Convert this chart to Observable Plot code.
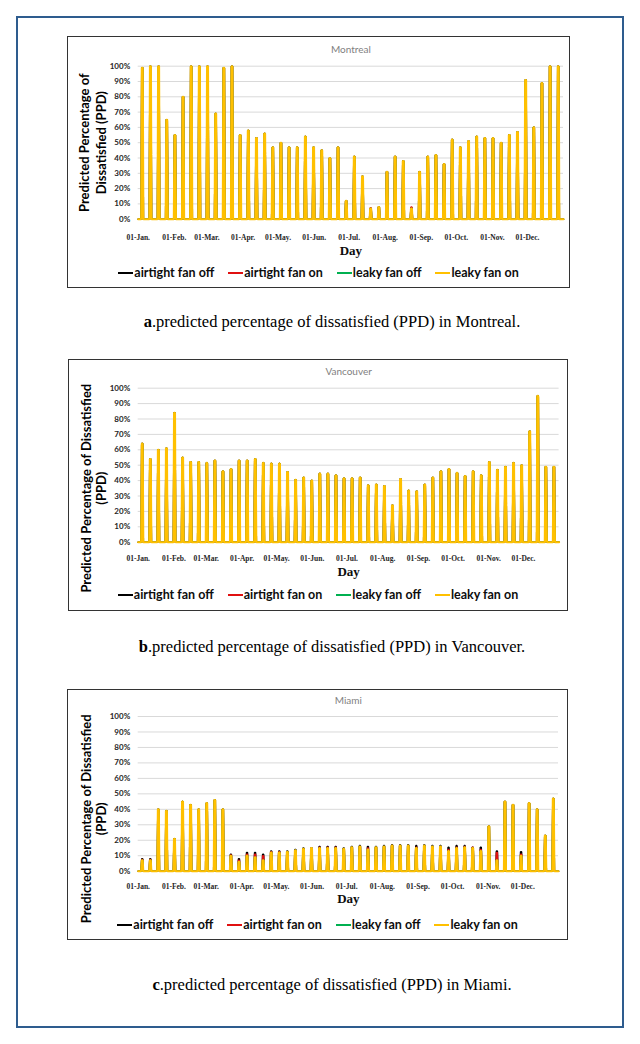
<!DOCTYPE html>
<html><head><meta charset="utf-8">
<script src="https://cdn.jsdelivr.net/npm/d3@7"></script>
<script src="https://cdn.jsdelivr.net/npm/@observablehq/plot@0.6"></script>
<style>
html,body{margin:0;padding:0;background:#fff}
body{width:640px;height:1044px;position:relative;overflow:hidden;font-family:Lato,sans-serif}
.frame{position:absolute;left:16px;top:16px;width:608px;height:1012px;box-sizing:border-box;border:2px solid #2e5c8e}
.panel{position:absolute;box-sizing:border-box;border:1px solid #333;background:#fff}
.panel svg{position:absolute;left:0;top:0}
.legend{position:absolute;left:0;right:0;height:16px;line-height:16px;display:flex;justify-content:center;gap:14px;font-family:Lato,sans-serif;font-weight:bold;font-size:12.5px;color:#0d0d0d;white-space:nowrap}
.legend .it{display:flex;align-items:center}
.legend .sw{display:inline-block;width:15px;height:2px;margin-right:1px}
.caption{position:absolute;left:0;width:664px;text-align:center;font-family:"Liberation Serif","Times New Roman",serif;font-size:16.5px;line-height:20px;color:#000;white-space:nowrap}
</style>
</head><body>
<div class="frame"></div>
<script>
// ---- axis / legend data ----
const monthStarts = [0, 31, 59, 90, 120, 151, 181, 212, 243, 273, 304, 334];
const monthLabels = ["01-Jan.", "01-Feb.", "01-Mar.", "01-Apr.", "01-May.", "01-Jun.", "01-Jul.", "01-Aug.", "01-Sep.", "01-Oct.", "01-Nov.", "01-Dec."];
const yTicks = [0, 10, 20, 30, 40, 50, 60, 70, 80, 90, 100];
const seriesNames = ["airtight fan off", "airtight fan on", "leaky fan off", "leaky fan on"];
const seriesColors = ["#000000", "#e01010", "#00b050", "#ffc000"];

// ---- weekly peak PPD (%), one value per weekly occupied spike ----
const montrealAirtightFanOff = [99,100,100,65,55,80,100,100,100,69,99,100, 55,58,53,56,47,50,47,47,54,47,45,40,47, 12,41,28,7,8,31,41,38,7.5,31,41,42,36, 52,47,51,54,53,53,50,55,57,91,60,89,100,100];
const montrealAirtightFanOn  = [99,100,100,65,55,80,100,100,100,69,99,100, 55,58,53,56,47,50,47,47,54,47,45,40,47, 12,41,28,7.5,8,31,41,38,8,31,41,42,36, 52,47,51,54,53,53,50,55,57,91,60,89,100,100];
const montrealLeakyFanOff    = [99,100,100,65,55,80,100,100,100,69,99,100, 55,58,53,56,47,50,47,47,54,47,45,40,47, 12,41,28,7,8,31,41,38,7,31,41,42,36, 52,47,51,54,53,53,50,55,57,91,60,89,100,100];
const montrealLeakyFanOn     = [99,100,100,65,55,80,100,100,100,69,99,100, 55,58,53,56,47,50,47,47,54,47,45,40,47, 12,41,28,7,8,31,41,38,7,31,41,42,36, 52,47,51,54,53,53,50,55,57,91,60,89,100,100];

const vancouverAirtightFanOff = [64,54,60,61,84,55,52,52,51.5,53,46,47.5, 53,53,54,51.5,51,51,45.5,40.5,42,40,44.5,44.5,43.5, 41.5,41.5,42,37,37.5,36.5,24,41,33.5,33,37.5,42,46, 47.5,45,43,46,43.5,52,47,49,51.5,50,72,95,49,49];
const vancouverAirtightFanOn  = [64,54,60,61,84,55,52,52,51.5,53,46,47.5, 53,53,54,51.5,51,51,45.5,40.5,42,40,44.5,44.5,43.5, 41.5,41.5,42,37,37.5,36.5,24,41,33.5,33,37.5,42,46, 47.5,45,43,46,43.5,52,47,49,51.5,50,72,95,49,49];
const vancouverLeakyFanOff    = [64,54,60,61,84,55,52,52,51.5,53,46,47.5, 53,53,54,51.5,51,51,45.5,40.5,42,40,44.5,44.5,43.5, 41.5,41.5,42,37,37.5,36.5,24,41,33.5,33,37.5,42,46, 47.5,45,43,46,43.5,52,47,49,51.5,50,72,95,49,49];
const vancouverLeakyFanOn     = [64,54,60,61,84,55,52,52,51.5,53,46,47.5, 53,53,54,51.5,51,51,45.5,40.5,42,40,44.5,44.5,43.5, 41.5,41.5,42,37,37.5,36.5,24,41,33.5,33,37.5,42,46, 47.5,45,43,46,43.5,52,47,49,51.5,50,72,95,49,49];

const miamiAirtightFanOff = [8,8,40,39,21,45,43,40,44,46,40,11, 8,12,12,11,13,13,13,14,15,15,16,16,16, 15,16,16.5,16,16,16.5,17,17,17,16.5,17,16.5,16.5, 15.5,16.5,16.5,15.5,15.5,29,13,45,43,12.5,44,40,23,47];
const miamiAirtightFanOn  = [7.5,7.5,40,39,21,45,43,40,44,46,40,10.5, 7,11,11,10,12.5,12.5,12.5,13.5,14.5,15,15.5,15.5,15.5, 14.5,15.5,16,15,15.5,16,16.5,16.5,16.5,15.5,16.5,16,16, 14,15.5,16,15.5,14,29,12,45,43,11,44,40,23,47];
const miamiLeakyFanOff    = [7,7,40,39,21,45,43,40,44,46,40,10, 6,10,9,7,12,12,12.5,13.5,14.5,15,15,15,15, 14.5,15.5,16,14,15.5,16,16.5,16.5,16.5,15,16.5,16,16, 13,15,15.5,15,13,29,7,45,43,10,44,40,23,47];
const miamiLeakyFanOn     = [7,7,40,39,21,45,43,40,44,46,40,10, 6,10,9,7,12,12,12.5,13.5,14.5,15,15,15,15, 14.5,15.5,16,14,15.5,16,16.5,16.5,16.5,15,16.5,16,16, 13,15,15.5,15,13,29,7,45,43,10,44,40,23,47];

// ---- texts ----
const cities = [
  {name: "Montreal", letter: "a", place: "Montreal",
   yTitle: ["Predicted Percentage of", "Dissatisfied (PPD)"],
   series: [montrealAirtightFanOff, montrealAirtightFanOn, montrealLeakyFanOff, montrealLeakyFanOn]},
  {name: "Vancouver", letter: "b", place: "Vancouver",
   yTitle: ["Predicted Percentage of Dissatisfied", "(PPD)"],
   series: [vancouverAirtightFanOff, vancouverAirtightFanOn, vancouverLeakyFanOff, vancouverLeakyFanOn]},
  {name: "Miami", letter: "c", place: "Miami",
   yTitle: ["Predicted Percentage of Dissatisfied", "(PPD)"],
   series: [miamiAirtightFanOff, miamiAirtightFanOn, miamiLeakyFanOff, miamiLeakyFanOn]}
];

// ---- layout (pixels) ----
const layouts = [
  {left: 67, top: 36, w: 503, h: 252, mL: 69.7, mR: 6, mT: 28.7, mB: 43.3, titleDy: -16.7, tickPad: 15, dayDy: 31.3, yDy: 0, y1: -53, y2: -36.5, legendTop: 228.3, capY: 322},
  {left: 68, top: 359, w: 500, h: 252, mL: 68.7, mR: 8.4, mT: 27.7, mB: 43.3, titleDy: -16, tickPad: 13.3, dayDy: 29.3, yDy: 23, y1: -51.5, y2: -36, legendTop: 227, capY: 647},
  {left: 67, top: 689, w: 501, h: 251, mL: 69.7, mR: 9, mT: 26, mB: 44.3, titleDy: -16, tickPad: 12.6, dayDy: 27.3, yDy: 25, y1: -51.5, y2: -36, legendTop: 227, capY: 985}
];
const svgH = 225;
// spike geometry of each weekly occupied period (days)
const spikeFirst = 2.6, spikeRise = 0.5, spikeTop = 0.8, spikeFall = 0.5, week = 7, yearDays = 365;
const strokeWidths = [1.6, 1.6, 1.6, 2.1];

function spikePoints(peaks) {
  const pts = [{d: 0, v: 0}];
  peaks.forEach((v, i) => {
    const s = spikeFirst + week * i;
    pts.push({d: s, v: 0}, {d: s + spikeRise, v}, {d: s + spikeRise + spikeTop, v}, {d: s + spikeRise + spikeTop + spikeFall, v: 0});
  });
  pts.push({d: yearDays, v: 0});
  return pts;
}

cities.forEach((c, k) => {
  const L = layouts[k];
  const panel = document.createElement("div");
  panel.className = "panel";
  Object.assign(panel.style, {left: L.left + "px", top: L.top + "px", width: L.w + "px", height: L.h + "px"});
  document.body.appendChild(panel);

  const W = L.w - 2;
  const lines = c.series.map((s, i) => Plot.line(spikePoints(s), {x: "d", y: "v", stroke: seriesColors[i], strokeWidth: strokeWidths[i], strokeLinejoin: "miter"}));

  const chart = Plot.plot({
    width: W, height: svgH,
    marginLeft: L.mL, marginRight: L.mR, marginTop: L.mT, marginBottom: L.mB,
    style: {background: "transparent", overflow: "visible"},
    x: {domain: [0, yearDays], label: null},
    y: {domain: [0, 100], label: null},
    marks: [
      Plot.gridY(yTicks.slice(1), {stroke: "#d9d9d9", strokeOpacity: 1, strokeWidth: 1}),
      Plot.axisY(yTicks, {tickSize: 0, tickPadding: 8, tickFormat: d => d + "%", fontFamily: "Lato", fontWeight: "bold", fontSize: 8, fill: "#262626", label: null}),
      Plot.axisX(monthStarts, {tickSize: 0, tickPadding: L.tickPad, tickFormat: d => monthLabels[monthStarts.indexOf(d)], fontFamily: "Liberation Serif", fontWeight: "bold", fontSize: 7.5, fill: "#262626", label: null}),
      ...lines,
      Plot.text([c.name], {frameAnchor: "top", lineAnchor: "middle", dy: L.titleDy, fill: "#7f7f7f", fontFamily: "Lato", fontSize: 10}),
      Plot.text(["Day"], {frameAnchor: "bottom", lineAnchor: "middle", dy: L.dayDy, fill: "#0d0d0d", fontFamily: "Liberation Serif", fontWeight: "bold", fontSize: 13}),
      Plot.text([c.yTitle[0]], {frameAnchor: "left", textAnchor: "middle", lineAnchor: "middle", rotate: -90, dx: L.y1, dy: L.yDy, fill: "#000", fontFamily: "Lato", fontWeight: "bold", fontSize: 13}),
      Plot.text([c.yTitle[1]], {frameAnchor: "left", textAnchor: "middle", lineAnchor: "middle", rotate: -90, dx: L.y2, dy: L.yDy, fill: "#000", fontFamily: "Lato", fontWeight: "bold", fontSize: 13})
    ]
  });
  panel.appendChild(chart);

  const legend = document.createElement("div");
  legend.className = "legend";
  legend.style.top = L.legendTop + "px";
  seriesNames.forEach((n, i) => {
    const it = document.createElement("span");
    it.className = "it";
    const sw = document.createElement("span");
    sw.className = "sw";
    sw.style.background = seriesColors[i];
    it.appendChild(sw);
    it.appendChild(document.createTextNode(n));
    legend.appendChild(it);
  });
  panel.appendChild(legend);

  const cap = document.createElement("div");
  cap.className = "caption";
  cap.style.top = (L.capY - 10) + "px";
  const b = document.createElement("b");
  b.textContent = c.letter;
  cap.appendChild(b);
  cap.appendChild(document.createTextNode(".predicted percentage of dissatisfied (PPD) in " + c.place + "."));
  document.body.appendChild(cap);
});
</script>
</body></html>
